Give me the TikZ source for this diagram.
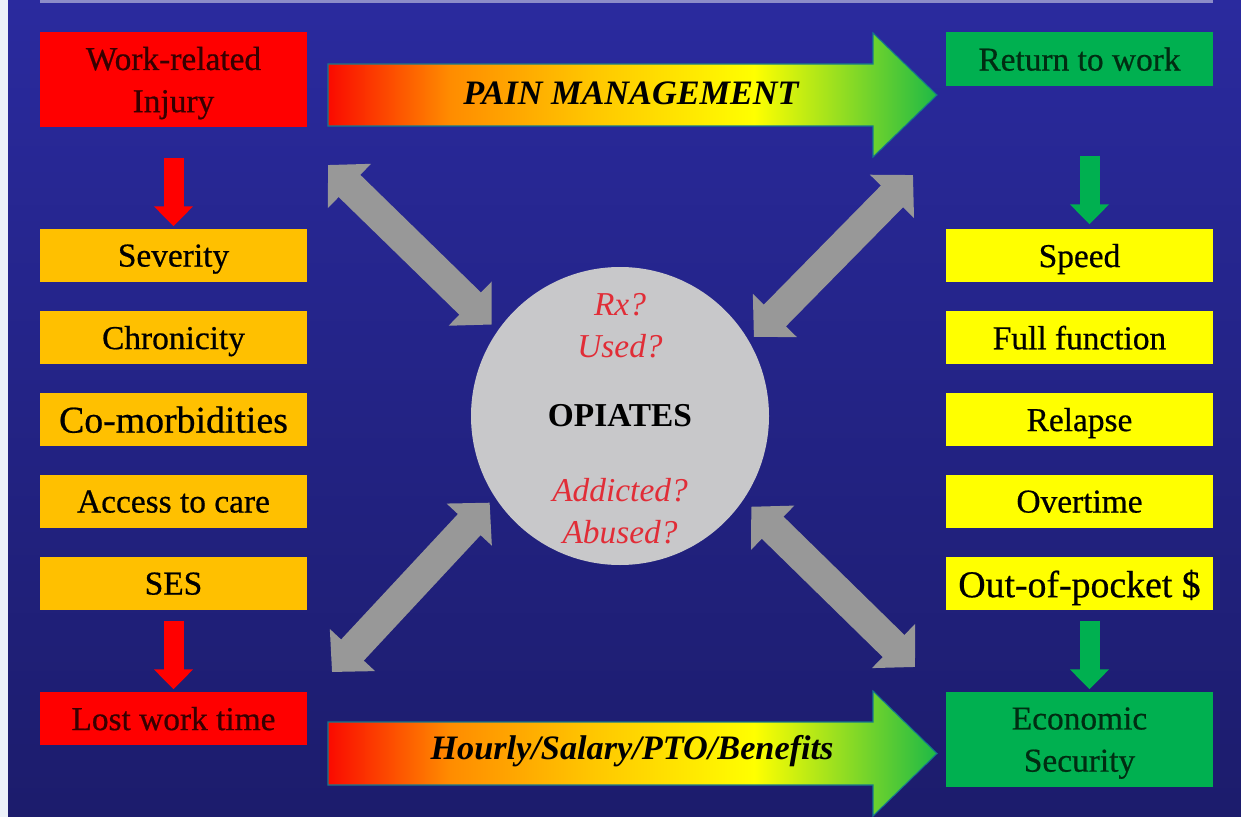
\documentclass[tikz,border=0pt]{standalone}
\usepackage{fontspec}
\setmainfont{Liberation Serif}
\usetikzlibrary{arrows.meta}

\definecolor{boxred}{RGB}{255,0,0}
\definecolor{boxorange}{RGB}{255,192,0}
\definecolor{boxyellow}{RGB}{255,255,0}
\definecolor{boxgreen}{RGB}{0,176,80}
\definecolor{textred}{RGB}{55,0,0}
\definecolor{textgreen}{RGB}{0,45,18}
\definecolor{arrowgray}{RGB}{152,152,152}
\definecolor{circlegray}{RGB}{200,200,202}
\definecolor{askred}{RGB}{225,45,55}
\definecolor{bgtop}{RGB}{42,42,158}
\definecolor{bgmid}{RGB}{54,54,210}
\definecolor{bgbottom}{RGB}{28,28,108}
\definecolor{stripwhite}{RGB}{236,241,249}
\definecolor{topline}{RGB}{140,140,200}
\definecolor{arrowedge}{RGB}{20,120,140}
\definecolor{arrowred}{RGB}{250,10,0}
\definecolor{arroworange}{RGB}{255,140,0}
\definecolor{arrowgold}{RGB}{255,200,0}
\definecolor{arrowyellow}{RGB}{255,255,0}
\definecolor{arrowgreen}{RGB}{30,185,70}

\pgfdeclarehorizontalshading{painshade}{100bp}{color(0bp)=(arrowred); color(25bp)=(arrowred); color(35bp)=(arroworange); color(47bp)=(arrowgold); color(60bp)=(arrowyellow); color(75bp)=(arrowgreen); color(100bp)=(arrowgreen)}

\begin{document}
\begin{tikzpicture}[node distance={16.4mm}, thick,
  box/.style = {minimum width=5.34cm, minimum height=1.06cm, inner sep=0pt, align=center, text depth=0pt, font=\fontsize{19}{24}\selectfont\addfontfeature{FakeBold=0.6}},
  bigtext/.style = {font=\fontsize{21.5}{26}\selectfont\addfontfeature{FakeBold=0.6}},
  redbox/.style = {box, fill=boxred, text=textred},
  orangebox/.style = {box, fill=boxorange, text=black},
  yellowbox/.style = {box, fill=boxyellow, text=black},
  greenbox/.style = {box, fill=boxgreen, text=textgreen},
  ask/.style = {align=center, text=askred, font=\fontsize{19}{24}\selectfont\itshape},
  redarrow/.style = {draw=boxred, line width=0.4cm, -{Triangle[width=0.76cm,length=0.4cm]}},
  greenarrow/.style = {draw=boxgreen, line width=0.4cm, -{Triangle[width=0.76cm,length=0.4cm]}},
  grayarrow/.style = {draw=arrowgray, line width=0.62cm, {Triangle[width=1.2cm,length=0.6cm]}-{Triangle[width=1.2cm,length=0.6cm]}},
  painarrow/.style = {shading=painshade, draw=arrowedge, line width=0.6pt},
  arrowtext/.style = {font=\fontsize{19.5}{23}\selectfont\bfseries\itshape, text=black}]
		\useasboundingbox (0,0) rectangle (24.82,-16.34);
		% background
		\shade[top color=bgtop, middle color=bgmid, bottom color=bgbottom] (0.16,0) rectangle (24.82,-16.34);
		\fill[stripwhite] (0,0) rectangle (0.16,-16.34);
		\draw[topline, line width=0.06cm] (0.8,-0.04) -- (24.26,-0.04);
		
		% left column
		\node[redbox, minimum height=1.9cm] (1) at (3.47,-1.59) {Work-related\\Injury};
		\node[orangebox] (2) at (3.47,-5.11) {Severity};
		\node[orangebox] (3) [below of=2] {Chronicity};
		\node[orangebox, bigtext] (4) [below of=3] {Co-morbidities};
		\node[orangebox] (5) [below of=4] {Access to care};
		\node[orangebox] (6) [below of=5] {SES};
		\node[redbox] (7) at (3.47,-14.37) {Lost work time};
		
		% right column
		\node[greenbox, minimum height=1.08cm] (8) at (21.59,-1.18) {Return to work};
		\node[yellowbox] (9) at (21.59,-5.11) {Speed};
		\node[yellowbox] (10) [below of=9] {Full function};
		\node[yellowbox] (11) [below of=10] {Relapse};
		\node[yellowbox] (12) [below of=11] {Overtime};
		\node[yellowbox, bigtext] (13) [below of=12] {Out-of-pocket \$};
		\node[greenbox, minimum height=1.9cm] (14) at (21.59,-14.79) {Economic\\Security};
		
		% centre
		\node[circle, fill=circlegray, minimum size=5.96cm, inner sep=0pt, font=\fontsize{19}{24}\selectfont\bfseries] (15) at (12.40,-8.32) {OPIATES};
		\node[ask] (16) at (12.40,-6.52) {Rx?\\Used?};
		\node[ask] (17) at (12.40,-10.22) {Addicted?\\Abused?};
		
		% big arrows
		\shadedraw[painarrow] (6.56,-1.28) -- (17.46,-1.28) -- (17.46,-0.66) -- (18.74,-1.90) -- (17.46,-3.14) -- (17.46,-2.52) -- (6.56,-2.52) -- cycle;
		\shadedraw[painarrow] (6.56,-14.44) -- (17.46,-14.44) -- (17.46,-13.82) -- (18.74,-15.07) -- (17.46,-16.32) -- (17.46,-15.70) -- (6.56,-15.70) -- cycle;
		\node[arrowtext] (18) at (12.62,-1.86) {PAIN MANAGEMENT};
		\node[arrowtext] (19) at (12.64,-15.02) {Hourly/Salary/PTO/Benefits};
		
		\coordinate (tl) at (6.56,-3.30);
		\coordinate (tr) at (18.26,-3.50);
		\coordinate (bl) at (6.64,-13.44);
		\coordinate (br) at (18.30,-13.34);
		
		\draw[redarrow, shorten <=0.6cm, shorten >=0.04cm] (1) -- (2);
		\draw[redarrow, shorten <=0.2cm, shorten >=0.04cm] (6) -- (7);
		\draw[greenarrow, shorten <=1.38cm, shorten >=0.08cm] ([xshift=0.2cm]8.south) -- ([xshift=0.2cm]9.north);
		\draw[greenarrow, shorten <=0.2cm, shorten >=0.04cm] ([xshift=0.2cm]13.south) -- ([xshift=0.2cm]14.north);
		
		\draw[grayarrow, shorten >=0.16cm] (tl) -- (15.145);
		\draw[grayarrow, shorten >=0.12cm] (tr) -- (15.30);
		\draw[grayarrow, shorten >=0.14cm] (bl) -- (15.213);
		\draw[grayarrow, shorten >=0.2cm] (br) -- (15.326);
	\end{tikzpicture}
\end{document}
